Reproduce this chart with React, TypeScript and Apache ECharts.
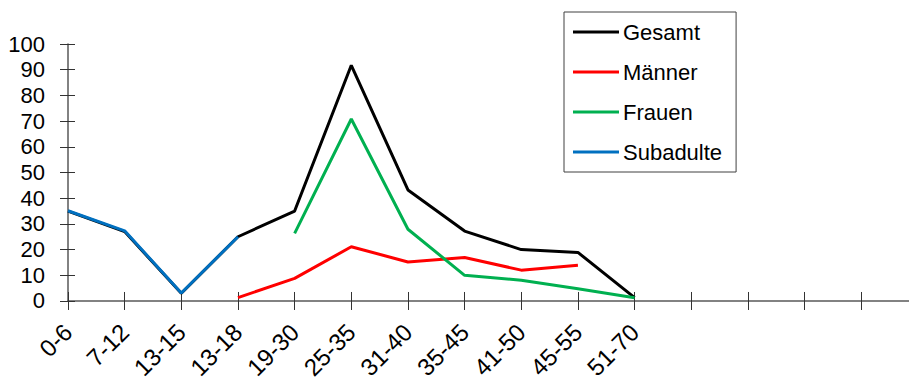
import React, { useEffect, useRef } from "react";
import * as echarts from "echarts";

const categories = ["0-6", "7-12", "13-15", "13-18", "19-30", "25-35", "31-40", "35-45", "41-50", "45-55", "51-70", "", "", "", "", ""];
const gesamt = [35, 27, 3, 25, 35, 91.7, 43.2, 27.2, 20, 18.9, 1.3, null, null, null, null, null];
const maenner = [null, null, null, 1.3, 8.8, 21.1, 15.2, 16.9, 12, 13.9, null, null, null, null, null, null];
const frauen = [null, null, null, null, 26.3, 70.8, 27.9, 10, 8.1, 4.8, 1.3, null, null, null, null, null];
const subadulte = [35.1, 27.3, 3.1, 25, null, null, null, null, null, null, null, null, null, null, null, null];
const yTicks = { min: 0, max: 100, interval: 10 };

const FONT = "Liberation Sans, Arial, sans-serif";
const AX = "#595959";

export default function App() {
  const ref = useRef<HTMLDivElement>(null);
  useEffect(() => {
    if (!ref.current) return;
    const chart = echarts.init(ref.current, undefined, { renderer: "svg" });
    const mk = (name: string, data: any[], color: string) => ({
      name,
      type: "line",
      data,
      symbol: "none",
      connectNulls: false,
      lineStyle: { color, width: 3 },
      itemStyle: { color },
      xAxisIndex: 0,
      yAxisIndex: 0,
    });
    chart.setOption({
      animation: false,
      grid: { left: 68, top: 44, bottom: 81, right: 0, containLabel: false },
      legend: {
        orient: "vertical",
        left: 564,
        top: 12,
        padding: [9, 14, 9, 9],
        itemGap: 18,
        itemWidth: 46,
        itemHeight: 3,
        icon: "rect",
        borderColor: "#404040",
        borderWidth: 1,
        textStyle: { fontSize: 22, color: "#000", fontFamily: FONT, padding: [0, 0, 0, -1] },
        data: ["Gesamt", "Männer", "Frauen", "Subadulte"],
      },
      xAxis: [
        {
          type: "category",
          data: categories,
          boundaryGap: false,
          axisLine: { lineStyle: { color: AX, width: 1.5 } },
          axisTick: { length: 9, lineStyle: { color: "#333", width: 1 }, interval: 0 },
          axisLabel: { rotate: 45, fontSize: 24, color: "#000", fontFamily: FONT, margin: 27, interval: 0 },
          splitLine: { show: false },
        },
        {
          type: "category",
          data: categories,
          boundaryGap: false,
          position: "bottom",
          axisLine: { show: false },
          axisTick: { inside: true, length: 9, lineStyle: { color: "#333", width: 1 }, interval: 0 },
          axisLabel: { show: false },
          splitLine: { show: false },
        },
      ],
      yAxis: [
        {
          type: "value",
          ...yTicks,
          axisLine: { show: true, lineStyle: { color: AX, width: 1.5 } },
          axisTick: { show: true, length: 8, lineStyle: { color: "#333", width: 1 } },
          axisLabel: { fontSize: 22, color: "#000", fontFamily: FONT, margin: 23 },
          splitLine: { show: false },
        },
        {
          type: "value",
          ...yTicks,
          position: "left",
          axisLine: { show: false },
          axisTick: { show: true, inside: true, length: 7, lineStyle: { color: "#333", width: 1 } },
          axisLabel: { show: false },
          splitLine: { show: false },
        },
      ],
      series: [
        mk("Gesamt", gesamt, "#000000"),
        mk("Männer", maenner, "#FF0000"),
        mk("Frauen", frauen, "#00B050"),
        mk("Subadulte", subadulte, "#0070C0"),
      ],
    });
    return () => chart.dispose();
  }, []);
  return (
    <div style={{ position: "fixed", left: 0, top: 0, width: 909, height: 382, overflow: "hidden", background: "#fff" }}>
      <div ref={ref} style={{ width: 920, height: 382 }} />
    </div>
  );
}
